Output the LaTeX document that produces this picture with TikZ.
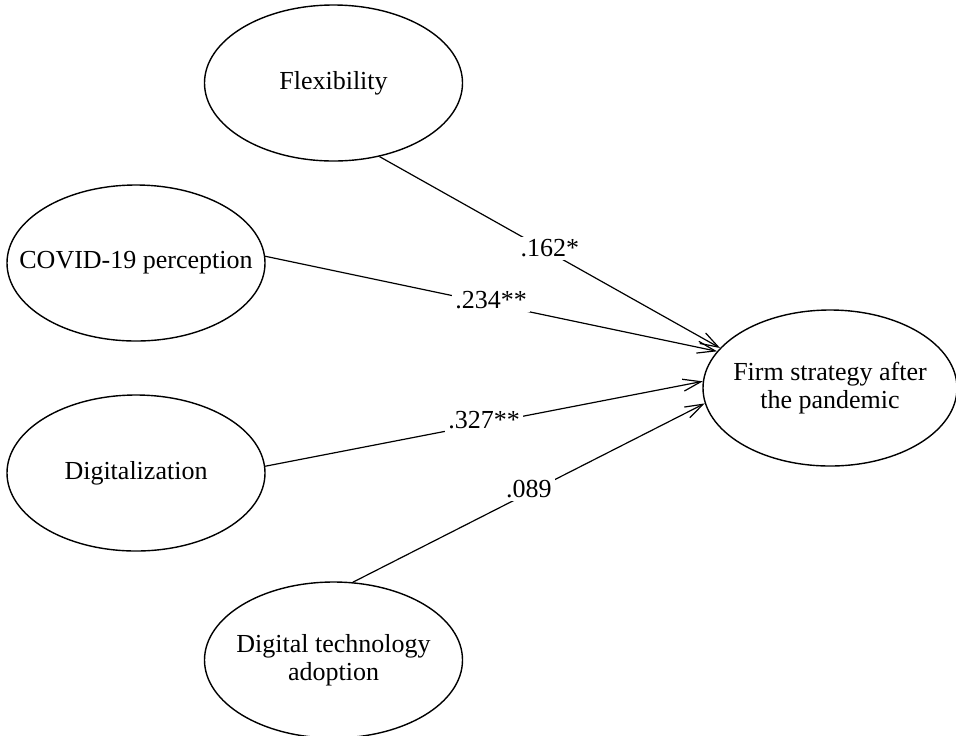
\documentclass[tikz,border=0pt]{standalone}
\usepackage{fontspec}
\setmainfont{Liberation Serif}
\usetikzlibrary{shapes.geometric,arrows.meta}
\begin{document}
\begin{tikzpicture}[x=0.5pt,y=-0.5pt,
  latent/.style={ellipse,draw,line width=0.7pt,inner xsep=-25pt,inner ysep=-5pt,
    minimum width=129pt,minimum height=78pt,align=center,
    font=\fontsize{13}{14.2}\selectfont},
  effect/.style={line width=0.6pt,-{Straight Barb[length=9pt,width=6pt,line width=0.6pt]}},
  coef/.style={fill=white,inner sep=1.5pt,font=\fontsize{13}{15}\selectfont}]
\useasboundingbox (0,0) rectangle (956,735);

% constructs
\node[latent] (flex) at (333.5,83) {Flexibility};
\node[latent] (covid) at (136,263) {COVID-19 perception};
\node[latent] (digi) at (136,473) {Digitalization};
\node[latent] (tech) at (333.5,660) {Digital technology\\adoption};
\node[latent,minimum width=127pt] (firm) at (830,388) {Firm strategy after\\the pandemic};

% structural paths with standardized coefficients
\draw[effect] (flex.-58) -- node[coef,yshift=2pt] {.162*} (firm.160.5);
\draw[effect] (covid.3.5) -- node[coef,yshift=2pt] {.234**} (firm.162.8);
\draw[effect] (digi.3.5) -- node[coef,yshift=2pt] {.327**} (firm.177.7);
\draw[effect] (tech.76.7) -- node[coef,yshift=2pt] {.089} (firm.-173.3);
\end{tikzpicture}
\end{document}
